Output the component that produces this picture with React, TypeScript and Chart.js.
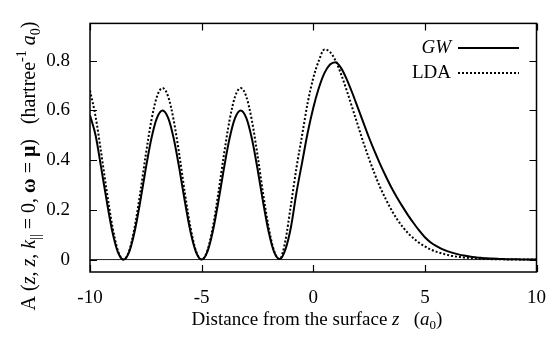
import { useEffect, useRef } from "react";
import { Chart, registerables } from "chart.js";

Chart.register(...registerables);

const zValues = [
  -10, -9.75, -9.5, -9.25, -9, -8.75, -8.5, -8.25, -8, -7.75, -7.5, -7.25, -7, -6.75, -6.5, -6.25,
  -6, -5.75, -5.5, -5.25, -5, -4.75, -4.5, -4.25, -4, -3.75, -3.5, -3.25, -3, -2.75, -2.5, -2.25,
  -2, -1.75, -1.5, -1.25, -1, -0.75, -0.5, -0.25, 0, 0.25, 0.5, 0.75, 1, 1.25, 1.5, 1.75,
  2, 2.25, 2.5, 2.75, 3, 3.25, 3.5, 3.75, 4, 4.25, 4.5, 4.75, 5, 5.25, 5.5, 5.75,
  6, 6.25, 6.5, 6.75, 7, 7.25, 7.5, 7.75, 8, 8.25, 8.5, 8.75, 9, 9.25, 9.5, 9.75, 10,
];

const gwValues = [
  0.58, 0.5, 0.37, 0.235, 0.113, 0.03, 0, 0.03, 0.113, 0.233, 0.367, 0.487, 0.57, 0.6, 0.57, 0.487,
  0.367, 0.233, 0.113, 0.03, 0, 0.03, 0.113, 0.233, 0.367, 0.487, 0.57, 0.6, 0.57, 0.487, 0.367, 0.233,
  0.113, 0.03, 0.002, 0.04, 0.13, 0.27, 0.39, 0.51, 0.61, 0.69, 0.75, 0.785, 0.794, 0.77, 0.725, 0.67,
  0.61, 0.55, 0.49, 0.435, 0.383, 0.335, 0.29, 0.25, 0.213, 0.178, 0.146, 0.116, 0.09, 0.07, 0.055, 0.043,
  0.034, 0.027, 0.021, 0.016, 0.012, 0.009, 0.007, 0.005, 0.004, 0.003, 0.002, 0.0015, 0.001, 0.0007, 0.0004, 0.0002, 0,
];

const ldaValues = [
  0.68, 0.575, 0.43, 0.275, 0.135, 0.036, 0, 0.034, 0.13, 0.268, 0.422, 0.56, 0.656, 0.69, 0.656, 0.56,
  0.422, 0.268, 0.13, 0.034, 0, 0.034, 0.13, 0.268, 0.422, 0.56, 0.656, 0.69, 0.656, 0.56, 0.422, 0.268,
  0.13, 0.034, 0.002, 0.075, 0.22, 0.37, 0.5, 0.63, 0.73, 0.8, 0.845, 0.835, 0.8, 0.745, 0.68, 0.61,
  0.54, 0.47, 0.405, 0.345, 0.29, 0.243, 0.2, 0.163, 0.132, 0.106, 0.085, 0.067, 0.053, 0.041, 0.032, 0.025,
  0.019, 0.014, 0.011, 0.008, 0.006, 0.0045, 0.0033, 0.0024, 0.0017, 0.0012, 0.0008, 0.0005, 0.0003, 0.0002, 0.0001, 0.00005, 0,
];

const xTicks = [-10, -5, 0, 5, 10];
const yTicks = [0, 0.2, 0.4, 0.6, 0.8];
const seriesNames = ["GW", "LDA"];

const FONT = "'Liberation Serif', 'Times New Roman', serif";
const FS = 19;

type Seg = { t: string; it?: boolean; b?: boolean; sub?: boolean; sup?: boolean };

function segFont(s: Seg, size: number) {
  const sz = s.sub || s.sup ? Math.round(size * 0.68) : size;
  return `${s.it ? "italic " : ""}${s.b ? "bold " : ""}${sz}px ${FONT}`;
}

function drawRich(ctx: CanvasRenderingContext2D, segs: Seg[], cx: number, cy: number, size: number) {
  let total = 0;
  const widths = segs.map((s) => {
    ctx.font = segFont(s, size);
    const w = ctx.measureText(s.t).width;
    total += w;
    return w;
  });
  let x = cx - total / 2;
  ctx.textBaseline = "middle";
  ctx.textAlign = "left";
  segs.forEach((s, i) => {
    ctx.font = segFont(s, size);
    const dy = s.sub ? size * 0.3 : s.sup ? -size * 0.38 : 0;
    ctx.fillText(s.t, x, cy + dy);
    x += widths[i];
  });
}

const decorPlugin = {
  id: "decor",
  beforeDatasetsDraw(chart: any) {
    const { ctx, chartArea, scales } = chart;
    const y0 = scales.y.getPixelForValue(0);
    ctx.save();
    ctx.strokeStyle = "#222";
    ctx.lineWidth = 1;
    ctx.beginPath();
    ctx.moveTo(chartArea.left, y0);
    ctx.lineTo(chartArea.right, y0);
    ctx.stroke();
    ctx.restore();
  },
  afterDatasetsDraw(chart: any) {
    const { ctx, chartArea, scales } = chart;
    const { left, right, top, bottom } = chartArea;
    ctx.save();
    ctx.strokeStyle = "#000";
    ctx.lineWidth = 1.5;
    ctx.strokeRect(left, top, right - left, bottom - top);
    ctx.lineWidth = 1.2;
    const tl = 7;
    ctx.beginPath();
    xTicks.forEach((v) => {
      const px = Math.round(scales.x.getPixelForValue(v)) + 0.5;
      ctx.moveTo(px, bottom);
      ctx.lineTo(px, bottom - tl);
      ctx.moveTo(px, top);
      ctx.lineTo(px, top + tl);
    });
    yTicks.forEach((v) => {
      const py = Math.round(scales.y.getPixelForValue(v)) + 0.5;
      ctx.moveTo(left, py);
      ctx.lineTo(left + tl, py);
      ctx.moveTo(right, py);
      ctx.lineTo(right - tl, py);
    });
    ctx.stroke();

    // legend
    ctx.fillStyle = "#000";
    ctx.textBaseline = "middle";
    ctx.textAlign = "right";
    const lx = 451;
    const ly1 = 48;
    const ly2 = 73;
    ctx.font = `italic ${FS}px ${FONT}`;
    ctx.fillText(seriesNames[0], lx, ly1);
    ctx.font = `${FS}px ${FONT}`;
    ctx.fillText(seriesNames[1], lx, ly2);
    ctx.lineWidth = 2;
    ctx.beginPath();
    ctx.moveTo(458, ly1);
    ctx.lineTo(519, ly1);
    ctx.stroke();
    ctx.setLineDash([2, 2]);
    ctx.beginPath();
    ctx.moveTo(458, ly2);
    ctx.lineTo(519, ly2);
    ctx.stroke();
    ctx.setLineDash([]);

    // axis titles
    drawRich(
      ctx,
      [
        { t: "Distance from the surface " },
        { t: "z", it: true },
        { t: "   (" },
        { t: "a", it: true },
        { t: "0", sub: true },
        { t: ")" },
      ],
      317,
      320,
      FS
    );
    ctx.save();
    ctx.translate(30, 166);
    ctx.rotate(-Math.PI / 2);
    drawRich(
      ctx,
      [
        { t: "A (" },
        { t: "z", it: true },
        { t: ", " },
        { t: "z", it: true },
        { t: ", " },
        { t: "k", it: true },
        { t: "||", sub: true },
        { t: " = 0, " },
        { t: "ω", b: true },
        { t: " = " },
        { t: "μ", b: true },
        { t: ")   (hartree" },
        { t: "-1", sup: true },
        { t: " " },
        { t: "a", it: true },
        { t: "0", sub: true },
        { t: ")" },
      ],
      0,
      0,
      20
    );
    ctx.restore();
    ctx.restore();
  },
};

export default function App() {
  const ref = useRef<HTMLCanvasElement | null>(null);
  useEffect(() => {
    document.body.style.margin = "0";
    if (!ref.current) return;
    const chart = new Chart(ref.current, {
      type: "line",
      data: {
        datasets: [
          {
            label: seriesNames[0],
            data: zValues.map((z, i) => ({ x: z, y: gwValues[i] })),
            borderColor: "#000",
            borderWidth: 2,
            pointRadius: 0,
            cubicInterpolationMode: "monotone",
            fill: false,
          },
          {
            label: seriesNames[1],
            data: zValues.map((z, i) => ({ x: z, y: ldaValues[i] })),
            borderColor: "#000",
            borderWidth: 2,
            borderDash: [2, 2],
            pointRadius: 0,
            cubicInterpolationMode: "monotone",
            fill: false,
          },
        ],
      },
      options: {
        animation: false,
        responsive: true,
        maintainAspectRatio: false,
        layout: { padding: { top: 22, right: 9, left: 0, bottom: 0 } },
        plugins: { legend: { display: false }, tooltip: { enabled: false } },
        scales: {
          x: {
            type: "linear",
            min: -10,
            max: 10,
            afterBuildTicks: (s: any) => {
              s.ticks = xTicks.map((v) => ({ value: v }));
            },
            afterFit: (s: any) => {
              s.height = 65;
            },
            grid: { display: false },
            border: { display: false },
            ticks: {
              color: "#000",
              font: { family: FONT, size: FS },
              padding: 7,
              maxRotation: 0,
            },
          },
          y: {
            type: "linear",
            min: -0.05,
            max: 0.95,
            afterBuildTicks: (s: any) => {
              s.ticks = yTicks.map((v) => ({ value: v }));
            },
            afterFit: (s: any) => {
              s.width = 90;
            },
            grid: { display: false },
            border: { display: false },
            ticks: {
              color: "#000",
              font: { family: FONT, size: FS },
              padding: 12,
              callback: (v: any) => (v === 0 ? "0" : Number(v).toFixed(1)),
            },
          },
        },
      },
      plugins: [decorPlugin],
    });
    return () => chart.destroy();
  }, []);
  return (
    <div style={{ width: 553, height: 337, position: "relative" }}>
      <canvas ref={ref} />
    </div>
  );
}
